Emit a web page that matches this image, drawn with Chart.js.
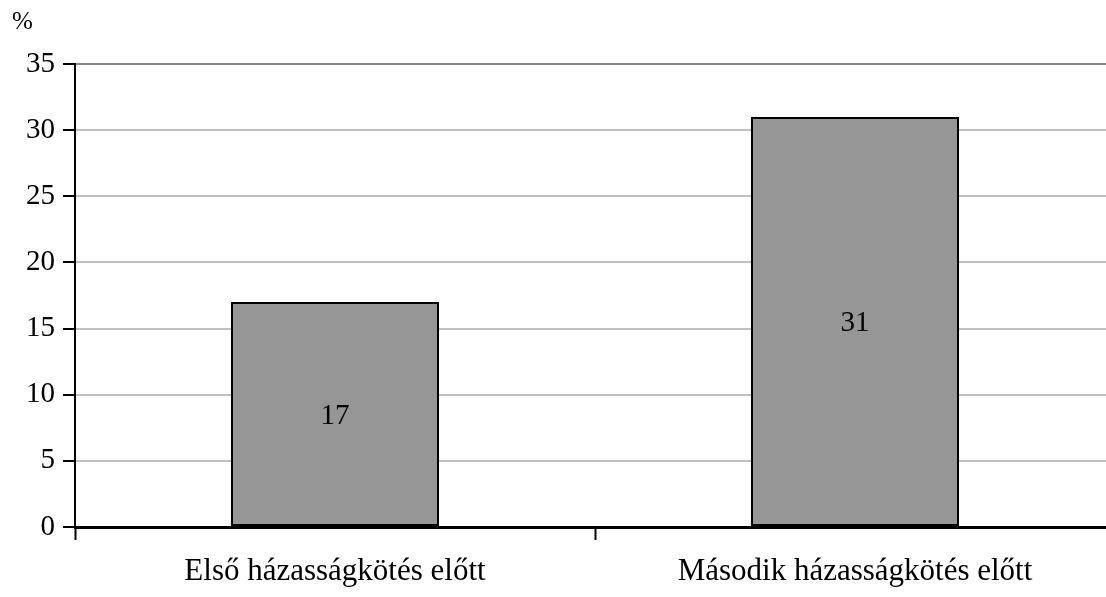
<!DOCTYPE html>
<html>
<head>
<meta charset="utf-8">
<script src="https://cdn.jsdelivr.net/npm/chart.js@4/dist/chart.umd.min.js"></script>
<style>
html,body{margin:0;padding:0;overflow:hidden;background:#fff;}
#wrap{width:1122px;height:597px;position:relative;}
</style>
</head>
<body>
<div id="wrap"><canvas id="c"></canvas></div>
<script>
const categories = ["Első házasságkötés előtt", "Második házasságkötés előtt"];
const values = [17, 31];
const yTicks = [0, 5, 10, 15, 20, 25, 30, 35];
const unitLabel = "%";

const FONT = "'Liberation Serif', 'Times New Roman', serif";

const valueLabels = {
  id: 'valueLabels',
  afterDatasetsDraw(chart) {
    const ctx = chart.ctx;
    const meta = chart.getDatasetMeta(0);
    ctx.save();
    ctx.font = "29px " + FONT;
    ctx.fillStyle = "#000";
    ctx.textAlign = "center";
    ctx.textBaseline = "middle";
    meta.data.forEach((bar, i) => {
      const y = (bar.y + bar.base) / 2;
      ctx.fillText(String(values[i]), bar.x, y + 2);
    });
    ctx.restore();
  }
};

new Chart(document.getElementById('c'), {
  type: 'bar',
  data: {
    labels: categories,
    datasets: [{
      data: values,
      backgroundColor: '#969696',
      borderColor: '#000',
      borderWidth: 2,
      borderSkipped: false,
      categoryPercentage: 0.4,
      barPercentage: 1.0
    }]
  },
  options: {
    responsive: true,
    maintainAspectRatio: false,
    animation: false,
    layout: { padding: { left: 12, right: 7, top: 7, bottom: 0 } },
    plugins: {
      legend: { display: false },
      tooltip: { enabled: false },
      title: {
        display: true,
        text: unitLabel,
        align: 'start',
        color: '#000',
        font: { family: FONT, size: 25, weight: 'normal' },
        padding: { top: 0, bottom: 27 }
      }
    },
    scales: {
      x: {
        offset: true,
        afterFit(axis) { axis.height = 70; },
        grid: {
          offset: true,
          drawOnChartArea: false,
          drawTicks: true,
          tickLength: 13,
          tickColor: '#000',
          tickWidth: 2
        },
        border: { color: '#000', width: 3 },
        ticks: {
          color: '#000',
          font: { family: FONT, size: 31 },
          padding: 13,
          maxRotation: 0
        }
      },
      y: {
        min: 0,
        max: 35,
        afterBuildTicks(axis) { axis.ticks = yTicks.map(v => ({ value: v })); },
        afterFit(axis) { axis.width = 63; },
        grid: {
          color: (c) => (c.tick && c.tick.value === 35) ? '#868686' : '#c0c0c0',
          lineWidth: 2,
          drawTicks: true,
          tickLength: 12,
          tickColor: '#000',
          tickWidth: 2
        },
        border: { color: '#000', width: 2 },
        ticks: {
          color: '#000',
          font: { family: FONT, size: 29 },
          padding: 8
        }
      }
    }
  },
  plugins: [valueLabels]
});
</script>
</body>
</html>
